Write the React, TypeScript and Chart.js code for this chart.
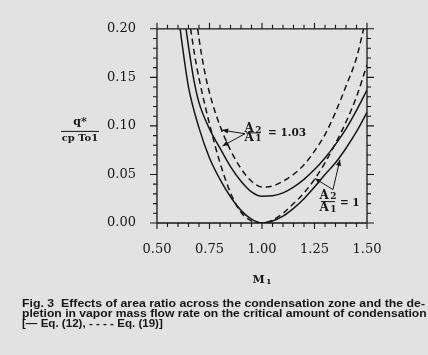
import React, { useEffect, useLayoutEffect, useRef } from 'react';
import { Chart, registerables } from 'chart.js';

Chart.register(...registerables);

// ---- data ----
// Eq. (12), A2/A1 = 1 (solid)
const eq12R1Mach = [0.61, 0.63, 0.65, 0.70, 0.75, 0.80, 0.85, 0.90, 0.95, 1.00, 1.05, 1.10, 1.15, 1.20, 1.25, 1.30, 1.35, 1.40, 1.45, 1.50];
const eq12R1Q = [0.200, 0.168, 0.140, 0.098, 0.067, 0.045, 0.027, 0.013, 0.004, 0.000, 0.002, 0.007, 0.015, 0.025, 0.037, 0.050, 0.062, 0.077, 0.094, 0.114];
// Eq. (12), A2/A1 = 1.03 (solid)
const eq12R103Mach = [0.638, 0.65, 0.675, 0.70, 0.75, 0.80, 0.85, 0.90, 0.95, 1.00, 1.05, 1.10, 1.15, 1.20, 1.25, 1.30, 1.35, 1.40, 1.45, 1.50];
const eq12R103Q = [0.200, 0.182, 0.148, 0.124, 0.097, 0.077, 0.058, 0.043, 0.032, 0.0275, 0.028, 0.031, 0.037, 0.045, 0.055, 0.067, 0.081, 0.097, 0.116, 0.137];
// Eq. (19), A2/A1 = 1 (dashed)
const eq19R1Mach = [0.66, 0.68, 0.70, 0.75, 0.80, 0.85, 0.90, 0.95, 1.00, 1.05, 1.10, 1.15, 1.20, 1.25, 1.30, 1.35, 1.40, 1.45, 1.50];
const eq19R1Q = [0.200, 0.172, 0.149, 0.102, 0.062, 0.031, 0.011, 0.002, 0.000, 0.003, 0.010, 0.020, 0.031, 0.045, 0.062, 0.082, 0.104, 0.130, 0.163];
// Eq. (19), A2/A1 = 1.03 (dashed)
const eq19R103Mach = [0.694, 0.70, 0.725, 0.75, 0.80, 0.85, 0.90, 0.95, 1.00, 1.05, 1.10, 1.15, 1.20, 1.25, 1.30, 1.35, 1.40, 1.45, 1.484];
const eq19R103Q = [0.200, 0.190, 0.158, 0.134, 0.100, 0.075, 0.056, 0.043, 0.037, 0.038, 0.043, 0.050, 0.060, 0.074, 0.091, 0.114, 0.141, 0.170, 0.200];

const xTickValues = [0.5, 0.75, 1.0, 1.25, 1.5];
const xTickLabels = ['0.50', '0.75', '1.00', '1.25', '1.50'];
const yTickValues = [0, 0.05, 0.1, 0.15, 0.2];
const yTickLabels = ['0.00', '0.05', '0.10', '0.15', '0.20'];
const xMinorStep = 0.05;
const yMinorStep = 0.01;

// annotation anchors (data coordinates)
const ratio103Label = { m: 0.957, top: 0.097, line: 0.0928, bottom: 0.088, eqM: 1.029, eqQ: 0.0922, text: '= 1.03' };
const ratio103Arrow = { from: [0.919, 0.0919], tips: [[0.810, 0.0957], [0.812, 0.0794]] };
const ratio1Label = { m: 1.314, top: 0.0284, line: 0.022, bottom: 0.0156, eqM: 1.371, eqQ: 0.0204, text: '= 1' };
const ratio1Arrow = { from: [1.338, 0.0344], tips: [[1.252, 0.0459], [1.371, 0.0651]] };

const captionLines = [
  'Fig. 3  Effects of area ratio across the condensation zone and the de-',
  'pletion in vapor mass flow rate on the critical amount of condensation',
  '[\u2014 Eq. (12), - - - - Eq. (19)]',
];
const captionWidths = [403, 405, 141];

const INK = '#161616';
const BG = '#e2e2e2';
const SERIF = '"DejaVu Serif", "Liberation Serif", serif';

const toPoints = (xs: number[], ys: number[]) => xs.map((x, i) => ({ x, y: ys[i] }));

function drawArrow(ctx: CanvasRenderingContext2D, x0: number, y0: number, x1: number, y1: number) {
  ctx.beginPath();
  ctx.moveTo(x0, y0);
  ctx.lineTo(x1, y1);
  ctx.stroke();
  const a = Math.atan2(y1 - y0, x1 - x0);
  const L = 6, W = 2.6;
  ctx.beginPath();
  ctx.moveTo(x1, y1);
  ctx.lineTo(x1 - L * Math.cos(a) + W * Math.sin(a), y1 - L * Math.sin(a) - W * Math.cos(a));
  ctx.lineTo(x1 - L * Math.cos(a) - W * Math.sin(a), y1 - L * Math.sin(a) + W * Math.cos(a));
  ctx.closePath();
  ctx.fill();
}

function drawSub(ctx: CanvasRenderingContext2D, cx: number, cy: number, main: string, sub: string, mainSize: number, subSize: number) {
  ctx.font = `bold ${mainSize}px ${SERIF}`;
  const wm = ctx.measureText(main).width;
  ctx.font = `bold ${subSize}px ${SERIF}`;
  const ws = ctx.measureText(sub).width;
  const gap = 1.5;
  const x0 = cx - (wm + gap + ws) / 2;
  ctx.textAlign = 'left';
  ctx.textBaseline = 'middle';
  ctx.font = `bold ${mainSize}px ${SERIF}`;
  ctx.fillText(main, x0, cy);
  ctx.font = `bold ${subSize}px ${SERIF}`;
  ctx.fillText(sub, x0 + wm + gap, cy + 1.5);
}

const decorPlugin = {
  id: 'decor',
  afterDatasetsDraw(chart: any) {
    const { ctx, chartArea, scales } = chart;
    const { left, right, top, bottom } = chartArea;
    const xs = scales.x, ys = scales.y;
    ctx.save();
    ctx.strokeStyle = INK;
    ctx.fillStyle = INK;
    ctx.lineWidth = 1.3;
    ctx.beginPath();
    ctx.moveTo(left, top); ctx.lineTo(right, top);
    ctx.moveTo(left, bottom); ctx.lineTo(right, bottom);
    ctx.moveTo(left, top); ctx.lineTo(left, bottom);
    ctx.moveTo(right, top); ctx.lineTo(right, bottom);
    ctx.stroke();

    ctx.lineWidth = 1.1;
    ctx.beginPath();
    const nx = Math.round((xs.max - xs.min) / xMinorStep);
    for (let i = 0; i <= nx; i++) {
      const v = xs.min + i * xMinorStep;
      const major = xTickValues.some((t) => Math.abs(t - v) < 1e-6);
      const len = major ? 6 : 4;
      const px = xs.getPixelForValue(v);
      ctx.moveTo(px, bottom); ctx.lineTo(px, bottom + len);
      ctx.moveTo(px, top); ctx.lineTo(px, top - len);
    }
    const ny = Math.round((ys.max - ys.min) / yMinorStep);
    for (let i = 0; i <= ny; i++) {
      const v = ys.min + i * yMinorStep;
      const major = yTickValues.some((t) => Math.abs(t - v) < 1e-6);
      const len = major ? 7 : 4;
      const py = ys.getPixelForValue(v);
      ctx.moveTo(left, py); ctx.lineTo(left - len, py);
      ctx.moveTo(right, py); ctx.lineTo(right + len, py);
    }
    ctx.stroke();

    // annotations
    ctx.lineWidth = 1;
    for (const [lab, arr] of [[ratio103Label, ratio103Arrow], [ratio1Label, ratio1Arrow]] as any[]) {
      const cx = xs.getPixelForValue(lab.m);
      drawSub(ctx, cx, ys.getPixelForValue(lab.top), 'A', '2', 12, 9);
      drawSub(ctx, cx, ys.getPixelForValue(lab.bottom), 'A', '1', 12, 9);
      const ly = ys.getPixelForValue(lab.line);
      ctx.beginPath();
      ctx.moveTo(cx - 7, ly); ctx.lineTo(cx + 7, ly);
      ctx.stroke();
      ctx.font = `bold 10.5px ${SERIF}`;
      ctx.textAlign = 'left';
      ctx.textBaseline = 'middle';
      ctx.fillText(lab.text, xs.getPixelForValue(lab.eqM), ys.getPixelForValue(lab.eqQ));
      const fx = xs.getPixelForValue(arr.from[0]);
      const fy = ys.getPixelForValue(arr.from[1]);
      for (const t of arr.tips) {
        drawArrow(ctx, fx, fy, xs.getPixelForValue(t[0]), ys.getPixelForValue(t[1]));
      }
    }

    // y-axis title: q* / (cp To1)
    const tx = left - 77;
    const tyc = ys.getPixelForValue(0.1) + 5.5;
    ctx.textAlign = 'center';
    ctx.textBaseline = 'middle';
    ctx.font = `bold 11px ${SERIF}`;
    ctx.fillText('q*', tx, tyc - 9);
    ctx.beginPath();
    ctx.moveTo(tx - 19, tyc); ctx.lineTo(tx + 19, tyc);
    ctx.stroke();
    ctx.font = `bold 10px ${SERIF}`;
    ctx.fillText('cp To1', tx, tyc + 7);

    // x-axis title: M1
    drawSub(ctx, (left + right) / 2, bottom + 57, 'M', '1', 11, 8);
    ctx.restore();
  },
};

export default function App() {
  const canvasRef = useRef<HTMLCanvasElement | null>(null);
  const capRefs = useRef<(HTMLSpanElement | null)[]>([]);

  useLayoutEffect(() => {
    capRefs.current.forEach((el, i) => {
      if (!el) return;
      const w = el.offsetWidth;
      if (w > 0) el.style.transform = `scaleX(${captionWidths[i] / w})`;
    });
  }, []);

  useEffect(() => {
    const canvas = canvasRef.current;
    if (!canvas) return;
    const lineStyle = {
      borderColor: INK,
      borderWidth: 1.5,
      pointRadius: 0,
      fill: false,
      cubicInterpolationMode: 'monotone' as const,
    };
    const chart = new Chart(canvas, {
      type: 'line',
      data: {
        datasets: [
          { label: 'Eq. (12), A2/A1 = 1', data: toPoints(eq12R1Mach, eq12R1Q), ...lineStyle },
          { label: 'Eq. (12), A2/A1 = 1.03', data: toPoints(eq12R103Mach, eq12R103Q), ...lineStyle },
          { label: 'Eq. (19), A2/A1 = 1', data: toPoints(eq19R1Mach, eq19R1Q), ...lineStyle, borderDash: [6, 4] },
          { label: 'Eq. (19), A2/A1 = 1.03', data: toPoints(eq19R103Mach, eq19R103Q), ...lineStyle, borderDash: [6, 4] },
        ],
      },
      options: {
        responsive: false,
        animation: false,
        devicePixelRatio: 1,
        layout: { padding: { left: 0, right: 61, top: 14, bottom: 0 } },
        plugins: { legend: { display: false }, tooltip: { enabled: false } },
        scales: {
          x: {
            type: 'linear',
            min: 0.5,
            max: 1.5,
            grid: { display: false, drawTicks: false },
            border: { display: false },
            afterBuildTicks: (s: any) => { s.ticks = xTickValues.map((value) => ({ value })); },
            afterFit: (s: any) => { s.height = 132; },
            ticks: {
              padding: 19,
              maxRotation: 0,
              autoSkip: false,
              color: INK,
              font: { family: SERIF, size: 13 },
              callback: (_v: any, i: number) => xTickLabels[i],
            },
          },
          y: {
            type: 'linear',
            min: 0,
            max: 0.2,
            grid: { display: false, drawTicks: false },
            border: { display: false },
            afterBuildTicks: (s: any) => { s.ticks = yTickValues.map((value) => ({ value })); },
            afterFit: (s: any) => { s.width = 157; },
            ticks: {
              padding: 21,
              autoSkip: false,
              color: INK,
              font: { family: SERIF, size: 13 },
              callback: (_v: any, i: number) => yTickLabels[i],
            },
          },
        },
      },
      plugins: [decorPlugin],
    });
    return () => chart.destroy();
  }, []);

  return (
    <div style={{ position: 'fixed', left: 0, top: 0, width: 428, height: 355, background: BG, overflow: 'hidden' }}>
      <canvas ref={canvasRef} width={428} height={355} style={{ position: 'absolute', left: 0, top: 0, width: 428, height: 355 }} />
      <div style={{ position: 'absolute', left: 22, top: 298, fontFamily: '"Liberation Sans", Arial, sans-serif', fontWeight: 'bold', fontSize: 11, lineHeight: '10px', color: INK }}>
        {captionLines.map((t, i) => (
          <div key={i} style={{ height: 10, whiteSpace: 'pre' }}>
            <span ref={(el) => { capRefs.current[i] = el; }} style={{ display: 'inline-block', transformOrigin: '0 0', whiteSpace: 'pre' }}>{t}</span>
          </div>
        ))}
      </div>
    </div>
  );
}
